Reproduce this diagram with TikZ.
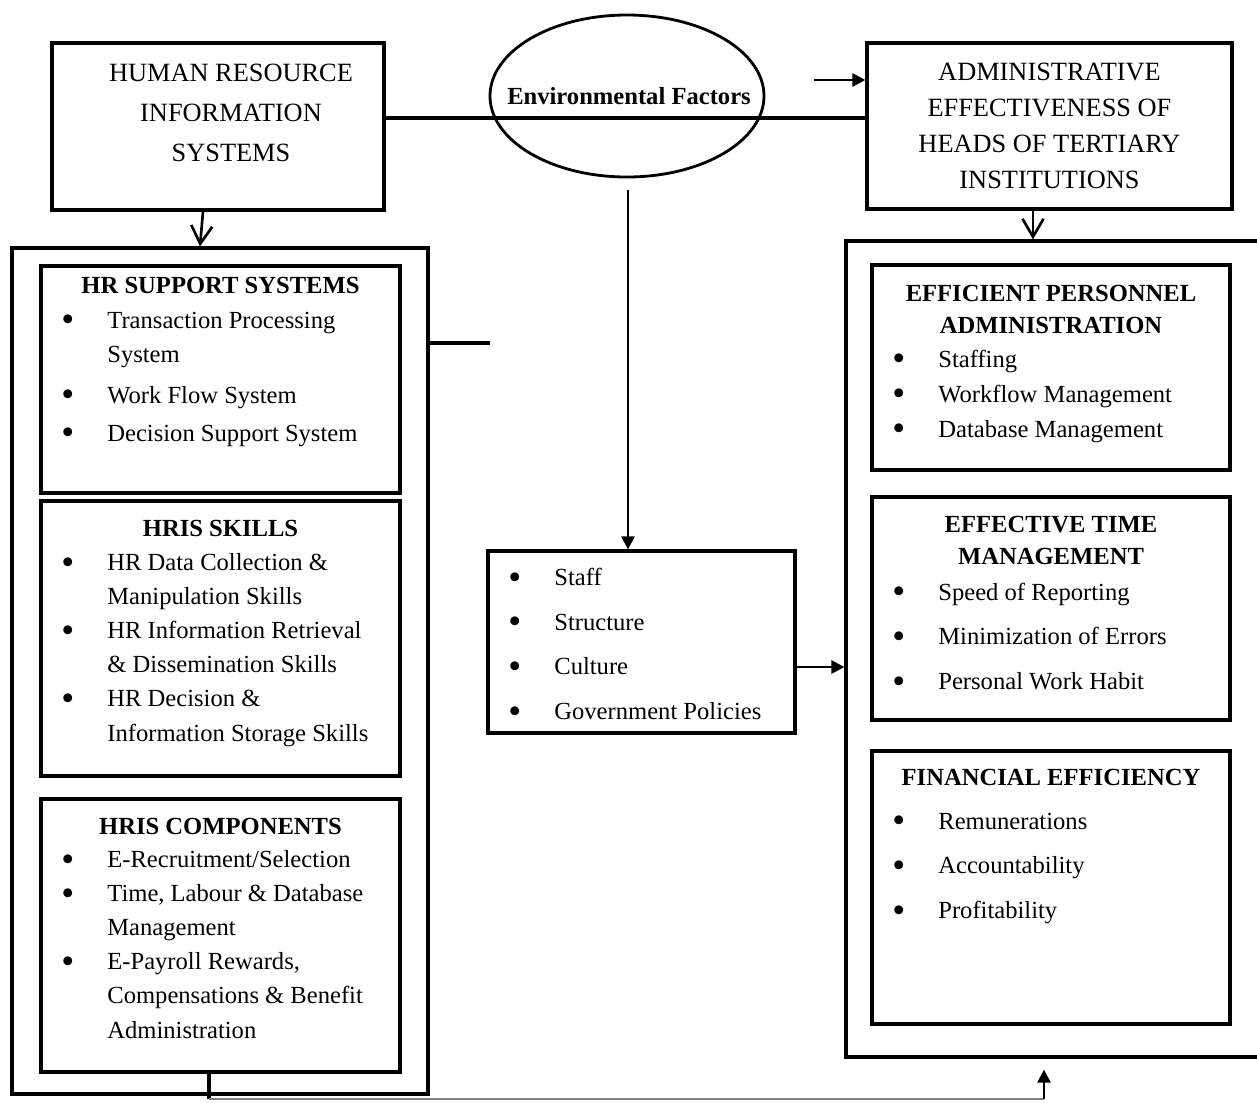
\documentclass[tikz,border=0pt]{standalone}
\usepackage{fontspec}
\setmainfont{Liberation Serif}
\usepackage{tikz}
\usetikzlibrary{arrows.meta,shapes.geometric}

\newcommand{\bu}{\makebox[8.8mm][l]{\hspace{-0.4mm}\raisebox{-2pt}{\scalebox{1.5}{\textbullet}}}}
\newcommand{\ind}{\makebox[8.8mm]{}}

\begin{document}
\begin{tikzpicture}[
  x=0.2mm,
  y=-0.2mm,
  every node/.style={inner sep=0pt},
  box/.style={draw, line width=1.8pt, minimum width=71.8mm},
  hdr/.style={anchor=base, align=center, font=\fontsize{14}{18.1}\selectfont\bfseries},
  lst/.style={anchor=base west, align=left, font=\fontsize{14}{19.4}\selectfont},
  lstw/.style={anchor=base west, align=left, font=\fontsize{14}{25.4}\selectfont},
  farr/.style={line width=1.5pt, -{Triangle[length=2.6mm, width=2.6mm]}},
  varr/.style={line width=1.5pt, -{Straight Barb[length=3.6mm, width=4.2mm]}}
]
\useasboundingbox (0,0) rectangle (1257,1102);

% top row (multi-line nodes sit on the baseline of their last line)
\node[box, minimum width=66.4mm, minimum height=33.4mm] (hris) at (218,126.5) {};
\node[anchor=base, align=center, font=\fontsize{15}{22.7}\selectfont] (hristxt) at (231,161)
  {HUMAN RESOURCE\\INFORMATION\\SYSTEMS};
\node[draw, ellipse, line width=1.6pt, minimum width=54.8mm, minimum height=32.4mm] (env) at (627,96) {};
\node[font=\fontsize{14}{16}\selectfont\bfseries] (envtxt) at (629,96) {Environmental Factors};
\node[box, minimum width=73mm, minimum height=33.2mm, align=center, font=\fontsize{15}{20.4}\selectfont] (adm) at (1049.5,126)
  {ADMINISTRATIVE\\EFFECTIVENESS OF\\HEADS OF TERTIARY\\INSTITUTIONS};

% left column
\node[box, minimum width=83.2mm, minimum height=169.2mm] (lout) at (220,671) {};
\node[box, minimum height=45.4mm] (hrs) at (220.5,379.5) {};
\node[box, minimum height=55mm] (skl) at (220.5,638.5) {};
\node[box, minimum height=54.6mm] (cmp) at (220.5,935.5) {};

\node[hdr] (hrshd) at (220.5,293) {HR SUPPORT SYSTEMS};
\node[lst, font=\fontsize{14}{19.6}\selectfont] (hrslst) at (63,441)
  {\bu Transaction Processing\\ \ind System\\[3.4pt] \bu Work Flow System\\[2pt] \bu Decision Support System};

\node[hdr] (sklhd) at (220.5,536) {HRIS SKILLS};
\node[lst] (skllst) at (63,741)
  {\bu HR Data Collection \&\\ \ind Manipulation Skills\\ \bu HR Information Retrieval\\
   \ind \& Dissemination Skills\\ \bu HR Decision \&\\ \ind Information Storage Skills};

\node[hdr] (cmphd) at (220.5,834) {HRIS COMPONENTS};
\node[lst] (cmplst) at (63,1038)
  {\bu E-Recruitment/Selection\\ \bu Time, Labour \& Database\\ \ind Management\\
   \bu E-Payroll Rewards,\\ \ind Compensations \& Benefit\\ \ind Administration};

% middle
\node[box, minimum width=61.4mm, minimum height=36.4mm] (mid) at (641.5,642) {};
\node[lstw] (midlst) at (510,719.5)
  {\bu Staff\\ \bu Structure\\ \bu Culture\\ \bu Government Policies};

% right column
\node[box, minimum width=90.8mm, minimum height=163.2mm] (rout) at (1073,649) {};
\node[box, minimum width=71.6mm, minimum height=41mm] (epa) at (1051,367.5) {};
\node[box, minimum width=71.6mm, minimum height=44.6mm] (etm) at (1051,608.5) {};
\node[box, minimum width=71.6mm, minimum height=54.6mm] (fin) at (1051,887.5) {};

\node[hdr] (epahd) at (1051,333) {EFFICIENT PERSONNEL\\ADMINISTRATION};
\node[lst, font=\fontsize{14}{19.8}\selectfont] (epalst) at (894,437)
  {\bu Staffing\\ \bu Workflow Management\\ \bu Database Management};

\node[hdr] (etmhd) at (1051,564) {EFFECTIVE TIME\\MANAGEMENT};
\node[lstw] (etmlst) at (894,689.5)
  {\bu Speed of Reporting\\ \bu Minimization of Errors\\ \bu Personal Work Habit};

\node[hdr] (finhd) at (1051,785) {FINANCIAL EFFICIENCY};
\node[lstw] (finlst) at (894,918.5)
  {\bu Remunerations\\ \bu Accountability\\ \bu Profitability};

% connectors
\draw[line width=2.3pt] (hris.east |- 0,118) -- (adm.west |- 0,118);

\coordinate (admfeed) at (814,80);
\draw[farr] (admfeed) -- (admfeed -| adm.west);

\coordinate (envfoot) at (628,190);
\draw[farr] (envfoot) -- (envfoot |- mid.north);

\draw[farr] (mid.east |- 0,667) -- (rout.west |- 0,667);

\coordinate (hrsout) at (490,343);
\draw[line width=1.8pt] (lout.east |- hrsout) -- (hrsout);

\draw[varr] ([xshift=-3mm]hris.south) -- ([xshift=-4mm]lout.north);

\coordinate (admfoot) at ([xshift=-3.3mm]adm.south);
\draw[varr] (admfoot) -- (admfoot |- rout.north);

\coordinate (cmpfoot) at ([xshift=-2.3mm]cmp.south);
\coordinate (botleft) at (cmpfoot |- 0,1099);
\coordinate (routfoot) at ([xshift=-5.8mm, yshift=-2.2mm]rout.south);
\coordinate (botright) at (routfoot |- 0,1099);
\draw[line width=1.8pt] (cmpfoot) -- (botleft);
\draw[gray, line width=0.7pt] (botleft) -- (botright);
\draw[farr] (botright) -- (routfoot);
\end{tikzpicture}
\end{document}
